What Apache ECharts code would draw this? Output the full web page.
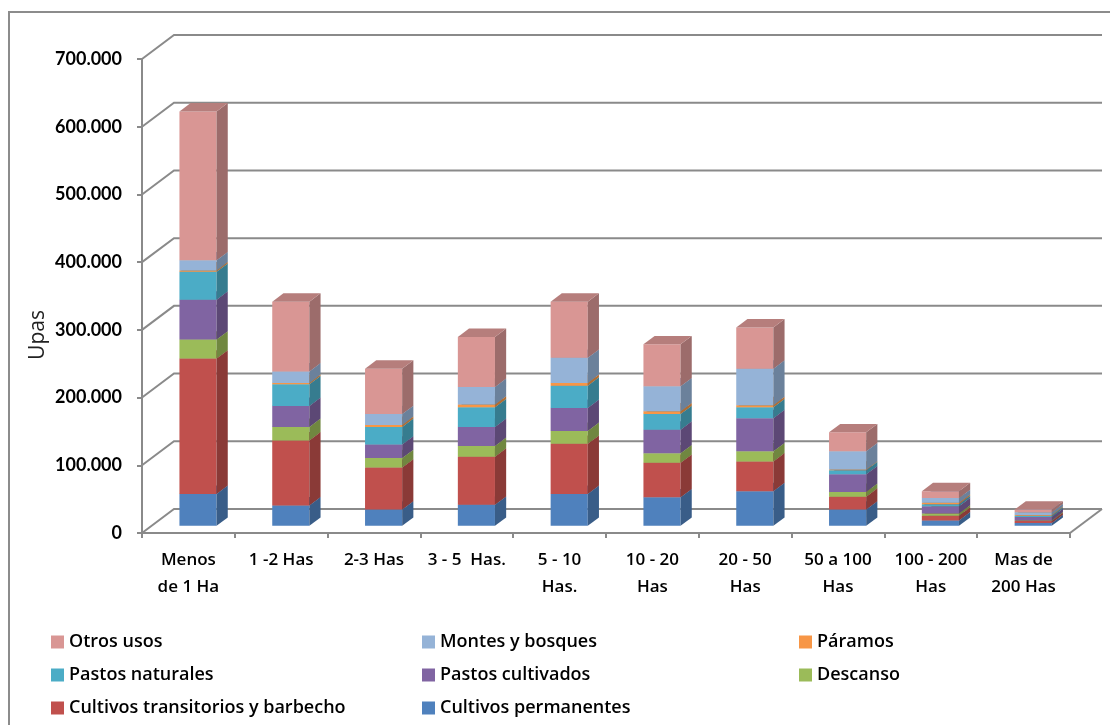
<!DOCTYPE html>
<html>
<head>
<meta charset="utf-8">
<script src="https://cdn.jsdelivr.net/npm/echarts@6/dist/echarts.min.js"></script>
<style>
  html, body { margin: 0; padding: 0; background: #fff; }
  #chart { width: 1110px; height: 725px; }
</style>
</head>
<body>
<div id="chart"></div>
<script>
// categorias (tamaño de la UPA)
const categorias = ['Menos\nde 1 Ha', '1 -2 Has', '2-3 Has', '3 - 5  Has.', '5 - 10\nHas.',
  '10 - 20\nHas', '20 - 50\nHas', '50 a 100\nHas', '100 - 200\nHas', 'Mas de\n200 Has'];

// valores por uso del suelo (en el orden de apilado, de abajo hacia arriba)
const cultivosPermanentes = [47000, 30000, 24000, 31000, 47000, 42000, 51000, 24000, 8000, 4000];
const cultivosTransitorios = [200000, 96000, 62000, 71000, 74000, 51000, 44000, 19000, 7000, 3000];
const descanso = [28000, 20000, 14000, 16000, 19000, 14000, 15000, 7000, 3000, 1000];
const pastosCultivados = [59000, 31000, 20000, 28000, 34000, 35000, 49000, 26000, 11000, 5000];
const pastosNaturales = [41000, 32000, 26000, 29000, 33000, 23000, 16000, 6000, 3000, 2000];
const paramos = [2000, 2000, 3000, 4000, 4000, 4000, 3000, 1000, 2000, 1000];
const montesBosques = [15000, 17000, 16000, 26000, 37000, 37000, 54000, 27000, 7000, 4000];
const otrosUsos = [220000, 103000, 67000, 74000, 83000, 62000, 61000, 28000, 10000, 4000];

// eje Y
const yTicks = [0, 100000, 200000, 300000, 400000, 500000, 600000, 700000];
const yTickLabels = ['0', '100.000', '200.000', '300.000', '400.000', '500.000', '600.000', '700.000'];

const usos = [
  { name: 'Cultivos permanentes', data: cultivosPermanentes, color: '#4F81BD' },
  { name: 'Cultivos transitorios y barbecho', data: cultivosTransitorios, color: '#C0504D' },
  { name: 'Descanso', data: descanso, color: '#9BBB59' },
  { name: 'Pastos cultivados', data: pastosCultivados, color: '#8064A2' },
  { name: 'Pastos naturales', data: pastosNaturales, color: '#4BACC6' },
  { name: 'Páramos', data: paramos, color: '#F79646' },
  { name: 'Montes y bosques', data: montesBosques, color: '#95B3D7' },
  { name: 'Otros usos', data: otrosUsos, color: '#D99694' }
];

// profundidad de la "caja" 3D (px)
const DEPTH_X = 32, DEPTH_Y = 24;
const GRID_COLOR = '#8a8a8a';

function shade(hex, f) {
  let n = parseInt(hex.slice(1), 16);
  let r = Math.round(((n >> 16) & 255) * f), g = Math.round(((n >> 8) & 255) * f), b = Math.round((n & 255) * f);
  return 'rgb(' + r + ',' + g + ',' + b + ')';
}

// columna 3D apilada
function renderBox(params, api) {
  let i = api.value(0), lo = api.value(1), hi = api.value(2);
  let pLo = api.coord([i, lo]), pHi = api.coord([i, hi]);
  let band = api.size([1, 0])[0];
  let w = band * 0.4;
  let fx = DEPTH_X * 0.3, fy = DEPTH_Y * 0.3;
  let dx = DEPTH_X * 0.35, dy = DEPTH_Y * 0.35;
  let xl = pLo[0] - w / 2 + fx, xr = xl + w;
  let yb = pLo[1] - fy, yt = pHi[1] - fy;
  let color = api.visual('color');
  return {
    type: 'group',
    children: [
      { type: 'rect', shape: { x: xl, y: yt, width: w, height: yb - yt }, style: { fill: color } },
      { type: 'polygon', shape: { points: [[xr, yb], [xr + dx, yb - dy], [xr + dx, yt - dy], [xr, yt]] },
        style: { fill: shade(color, 0.72) } },
      { type: 'polygon', shape: { points: [[xl, yt], [xr, yt], [xr + dx, yt - dy], [xl + dx, yt - dy]] },
        style: { fill: shade(color, 0.84) } }
    ]
  };
}

// lineas de pared y piso
function renderWall(params, api) {
  let cs = params.coordSys;
  let y = api.coord([0, api.value(0)])[1];
  let children = [{
    type: 'polyline',
    shape: { points: [[cs.x, y], [cs.x + DEPTH_X, y - DEPTH_Y], [cs.x + cs.width + DEPTH_X, y - DEPTH_Y]] },
    style: { stroke: GRID_COLOR, lineWidth: 2, fill: null }
  }];
  if (api.value(0) === 0) {
    children.push({
      type: 'line',
      shape: { x1: cs.x + cs.width, y1: y, x2: cs.x + cs.width + DEPTH_X, y2: y - DEPTH_Y },
      style: { stroke: GRID_COLOR, lineWidth: 2 }
    });
  }
  return { type: 'group', children: children };
}

let series = [{
  type: 'custom',
  name: 'pared',
  renderItem: renderWall,
  data: yTicks.map(v => [v]),
  encode: { y: 0 },
  silent: true,
  z: 1
}];

let base = categorias.map(() => 0);
usos.forEach(u => {
  let data = u.data.map((v, i) => {
    let item = [i, base[i], base[i] + v];
    base[i] += v;
    return item;
  });
  series.push({
    type: 'custom',
    name: u.name,
    renderItem: renderBox,
    data: data,
    encode: { x: 0, y: [1, 2] },
    itemStyle: { color: u.color },
    z: 2
  });
});

const legendBase = {
  orient: 'vertical',
  top: 633,
  padding: 0,
  itemGap: 15,
  itemWidth: 13,
  itemHeight: 13,
  icon: 'rect',
  textStyle: { fontFamily: 'Open Sans', fontSize: 18, fontWeight: 600, lineHeight: 18, color: '#000' }
};

let myChart = echarts.init(document.getElementById('chart'));
myChart.setOption({
  animation: false,
  textStyle: { fontFamily: 'Open Sans' },
  grid: { left: 142, right: 40, top: 59, bottom: 192 },
  xAxis: {
    type: 'category',
    data: categorias,
    axisLine: { lineStyle: { color: GRID_COLOR, width: 2 } },
    axisTick: { show: true, length: 5, lineStyle: { color: GRID_COLOR, width: 2 } },
    axisLabel: { color: '#000', fontFamily: 'Open Sans', fontSize: 17, fontWeight: 600, lineHeight: 27, margin: 14, interval: 0 }
  },
  yAxis: {
    type: 'value',
    min: 0,
    max: 700000,
    interval: 100000,
    splitLine: { show: false },
    axisLine: { show: true, lineStyle: { color: GRID_COLOR, width: 2 } },
    axisTick: { show: true, length: 5, lineStyle: { color: GRID_COLOR, width: 2 } },
    axisLabel: {
      color: '#000', fontFamily: 'Lato', fontSize: 18, fontWeight: 'bold', margin: 20,
      formatter: v => yTickLabels[yTicks.indexOf(v)]
    }
  },
  legend: [
    Object.assign({}, legendBase, { left: 51, height: 90, data: ['Otros usos', 'Pastos naturales', 'Cultivos transitorios y barbecho'] }),
    Object.assign({}, legendBase, { left: 422, height: 90, data: ['Montes y bosques', 'Pastos cultivados', 'Cultivos permanentes'] }),
    Object.assign({}, legendBase, { left: 799, height: 90, data: ['Páramos', 'Descanso'] })
  ],
  graphic: [
    { type: 'rect', shape: { x: 9, y: 12, width: 1200, height: 800 },
      style: { fill: null, stroke: '#8c8c8c', lineWidth: 2 }, silent: true },
    { type: 'text', x: 38, y: 335, rotation: Math.PI / 2,
      style: { text: 'Upas', fontFamily: 'Open Sans', fontSize: 21, fill: '#222', align: 'center', verticalAlign: 'middle' } }
  ],
  series: series
});
</script>
</body>
</html>
